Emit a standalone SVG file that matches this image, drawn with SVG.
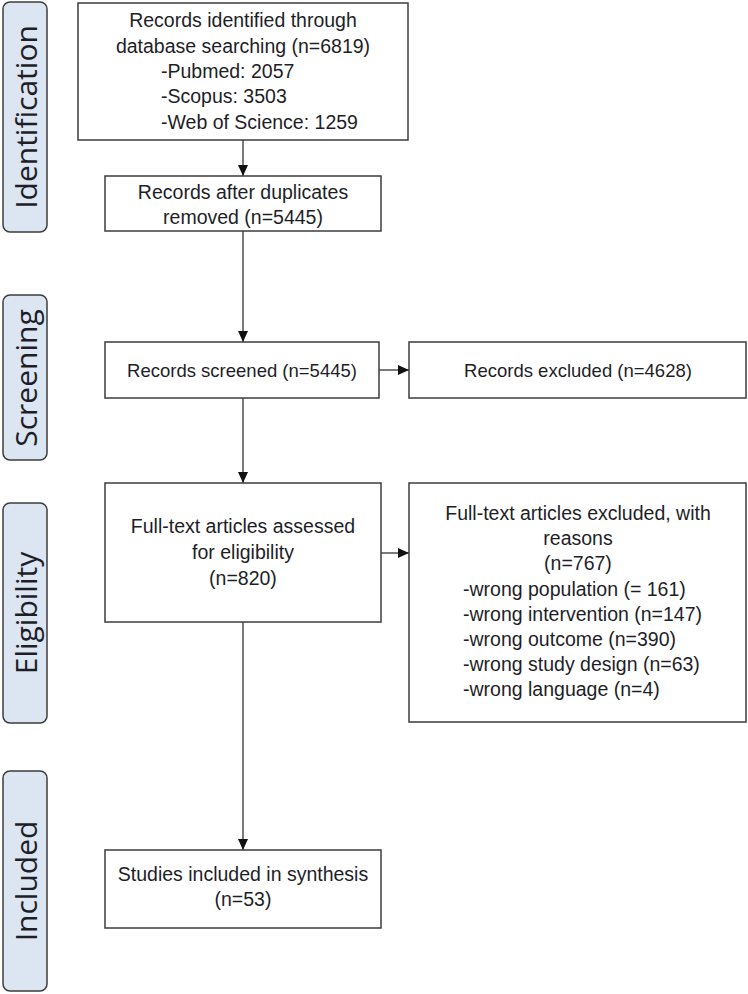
<svg xmlns="http://www.w3.org/2000/svg" width="748" height="994" viewBox="0 0 748 994">
<style>
.bg{fill:#ffffff}
.box{fill:#ffffff;stroke:#3c3c3c;stroke-width:1.5}
.lab{fill:#dce6f2;stroke:#3c3c3c;stroke-width:1.5}
.t{font-family:"Liberation Sans",Arial,sans-serif;font-size:19.5px;fill:#1e1e28}
.ts{font-family:"Liberation Sans",Arial,sans-serif;font-size:18.5px;fill:#1e1e28}
.c{text-anchor:middle}
.lt{font-family:"Open Sans","Liberation Sans",sans-serif;font-size:30px;fill:#1e1e28;text-anchor:middle}
.conn{stroke:#333333;stroke-width:1.3;fill:none}
</style>
<defs>
<marker id="arr" markerUnits="userSpaceOnUse" markerWidth="12" markerHeight="11" refX="11" refY="5" orient="auto">
<path d="M0,0 L11,5 L0,10 z" fill="#111111"/>
</marker>
</defs>
<rect class="bg" x="0" y="0" width="748" height="994"/>

<g id="label-identification">
<rect class="lab" x="3" y="2" width="44" height="230" rx="7"/>
<text class="lt" transform="translate(37,117) rotate(-90)">Identification</text>
</g>
<g id="label-screening">
<rect class="lab" x="3" y="295" width="44" height="165" rx="7"/>
<text class="lt" transform="translate(37,378) rotate(-90)">Screening</text>
</g>
<g id="label-eligibility">
<rect class="lab" x="3" y="503" width="44" height="220" rx="7"/>
<text class="lt" transform="translate(37,613) rotate(-90)">Eligibility</text>
</g>
<g id="label-included">
<rect class="lab" x="3" y="771" width="44" height="220" rx="7"/>
<text class="lt" transform="translate(37,881) rotate(-90)">Included</text>
</g>

<g id="connectors">
<line class="conn" x1="243" y1="140" x2="243" y2="176" marker-end="url(#arr)"/>
<line class="conn" x1="243" y1="231" x2="243" y2="342" marker-end="url(#arr)"/>
<line class="conn" x1="379" y1="370" x2="409" y2="370" marker-end="url(#arr)"/>
<line class="conn" x1="243" y1="398" x2="243" y2="483" marker-end="url(#arr)"/>
<line class="conn" x1="381" y1="553" x2="409" y2="553" marker-end="url(#arr)"/>
<line class="conn" x1="243" y1="622" x2="243" y2="850" marker-end="url(#arr)"/>
</g>

<g id="node-identified">
<rect class="box" x="78" y="3" width="330" height="137"/>
<text class="t c" x="243" y="27">Records identified through</text>
<text class="t c" x="243" y="53">database searching (n=6819)</text>
<text class="t" x="161" y="78">-Pubmed: 2057</text>
<text class="t" x="161" y="103">-Scopus: 3503</text>
<text class="t" x="161" y="129">-Web of Science: 1259</text>
</g>

<g id="node-duplicates">
<rect class="box" x="105" y="176" width="276" height="55"/>
<text class="t c" x="243" y="199">Records after duplicates</text>
<text class="t c" x="243" y="224">removed (n=5445)</text>
</g>

<g id="node-screened">
<rect class="box" x="105" y="342" width="274" height="56"/>
<text class="ts c" x="242" y="377">Records screened (n=5445)</text>
</g>

<g id="node-excluded">
<rect class="box" x="409" y="342" width="337" height="56"/>
<text class="ts c" x="578" y="377">Records excluded (n=4628)</text>
</g>

<g id="node-fulltext">
<rect class="box" x="105" y="483" width="276" height="139"/>
<text class="t c" x="243" y="533">Full-text articles assessed</text>
<text class="t c" x="243" y="559">for eligibility</text>
<text class="t c" x="243" y="585">(n=820)</text>
</g>

<g id="node-fulltext-excluded">
<rect class="box" x="409" y="483" width="337" height="239"/>
<text class="t c" x="578" y="520">Full-text articles excluded, with</text>
<text class="t c" x="578" y="545">reasons</text>
<text class="t c" x="578" y="570">(n=767)</text>
<text class="t" x="463" y="596">-wrong population (= 161)</text>
<text class="t" x="463" y="621">-wrong intervention (n=147)</text>
<text class="t" x="463" y="646">-wrong outcome (n=390)</text>
<text class="t" x="463" y="671">-wrong study design (n=63)</text>
<text class="t" x="463" y="696">-wrong language (n=4)</text>
</g>

<g id="node-included">
<rect class="box" x="105" y="850" width="276" height="78"/>
<text class="t c" x="243" y="881">Studies included in synthesis</text>
<text class="t c" x="243" y="906">(n=53)</text>
</g>
</svg>
